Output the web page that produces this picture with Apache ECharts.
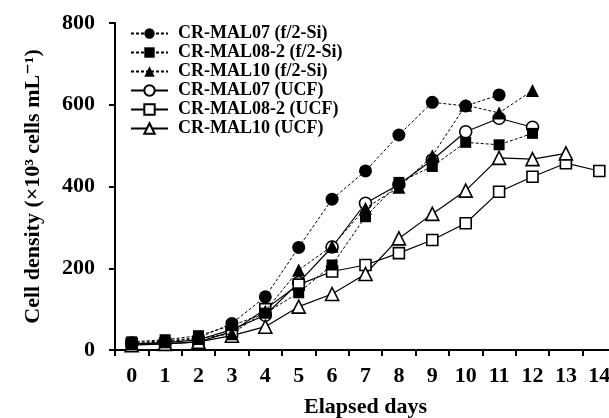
<!DOCTYPE html>
<html>
<head>
<meta charset="utf-8">
<script src="https://cdn.jsdelivr.net/npm/echarts@6/dist/echarts.min.js"></script>
<style>
  html, body { margin: 0; padding: 0; background: #fff; }
  #chart { width: 609px; height: 418px; }
</style>
</head>
<body>
<div id="chart"></div>
<script>
// elapsed days
const days = ["0", "1", "2", "3", "4", "5", "6", "7", "8", "9", "10", "11", "12", "13", "14"];

// cell density (x10^3 cells/mL)
const mal07F2 = [18, 22, 30, 65, 130, 251, 369, 438, 526, 606, 597, 624, null, null, null];
const mal082F2 = [20, 25, 35, 60, 90, 140, 208, 326, 410, 449, 508, 502, 530, null, null];
const mal10F2 = [15, 20, 28, 40, 95, 196, 254, 347, 398, 475, 599, 580, 635, null, null];
const mal07Ucf = [15, 18, 25, 50, 85, 165, 252, 359, 405, 465, 534, 567, 545, null, null];
const mal082Ucf = [15, 15, 20, 45, 100, 160, 192, 208, 237, 269, 310, 387, 424, 457, 438];
const mal10Ucf = [12, 15, 20, 35, 57, 106, 137, 186, 273, 333, 390, 470, 467, 481, null];

const yTicks = { min: 0, max: 800, step: 200 };

const serif = '"Liberation Serif", "DejaVu Serif", serif';

function f2Series(name, symbol, size, data) {
  return {
    name: name,
    type: "line",
    data: data,
    symbol: symbol,
    symbolSize: size,
    z: 3,
    lineStyle: { color: "#000", width: 1, type: [3, 2] },
    itemStyle: { color: "#000", borderColor: "#000", borderWidth: 0 }
  };
}

function ucfSeries(name, symbol, size, data) {
  return {
    name: name,
    type: "line",
    data: data,
    symbol: symbol,
    symbolSize: size,
    z: 2,
    lineStyle: { color: "#000", width: 1.2, type: "solid" },
    itemStyle: { color: "#fff", borderColor: "#000", borderWidth: 1.6 }
  };
}

const chart = echarts.init(document.getElementById("chart"));
chart.setOption({
  animation: false,
  backgroundColor: "#fff",
  // plot box is fixed; the last category runs past the right edge like the original
  grid: { left: 115, top: 23, width: 501, height: 327, outerBoundsMode: "none", containLabel: false },
  legend: {
    orient: "vertical",
    left: 125,
    top: 19,
    itemWidth: 37,
    itemHeight: 13,
    itemGap: 0,
    textStyle: {
      fontFamily: serif,
      fontWeight: "bold",
      fontSize: 18,
      lineHeight: 19,
      color: "#000",
      padding: [0, 0, 0, 5]
    }
  },
  xAxis: {
    type: "category",
    data: days,
    boundaryGap: true,
    name: "Elapsed days",
    nameLocation: "middle",
    nameGap: 46,
    nameTextStyle: { fontFamily: serif, fontWeight: "bold", fontSize: 22, color: "#000" },
    axisLine: { lineStyle: { color: "#000", width: 2 } },
    axisTick: { show: true, length: 6, lineStyle: { color: "#000", width: 2 } },
    axisLabel: { fontFamily: serif, fontWeight: "bold", fontSize: 22, color: "#000", margin: 15 },
    splitLine: { show: false }
  },
  yAxis: {
    type: "value",
    min: yTicks.min,
    max: yTicks.max,
    interval: yTicks.step,
    name: "Cell density (\u00d710\u00b3 cells mL\u207b\u00b9)",
    nameLocation: "middle",
    nameGap: 71,
    nameTextStyle: { fontFamily: serif, fontWeight: "bold", fontSize: 22, color: "#000" },
    axisLine: { show: true, lineStyle: { color: "#000", width: 2 } },
    axisTick: { show: true, length: 6, lineStyle: { color: "#000", width: 2 } },
    axisLabel: { fontFamily: serif, fontWeight: "bold", fontSize: 22, color: "#000", margin: 20 },
    splitLine: { show: false }
  },
  series: [
    f2Series("CR-MAL07 (f/2-Si)", "circle", 13, mal07F2),
    f2Series("CR-MAL08-2 (f/2-Si)", "rect", 11, mal082F2),
    f2Series("CR-MAL10 (f/2-Si)", "triangle", 13, mal10F2),
    ucfSeries("CR-MAL07 (UCF)", "circle", 12, mal07Ucf),
    ucfSeries("CR-MAL08-2 (UCF)", "rect", 11, mal082Ucf),
    ucfSeries("CR-MAL10 (UCF)", "triangle", 13, mal10Ucf)
  ]
});
</script>
</body>
</html>
